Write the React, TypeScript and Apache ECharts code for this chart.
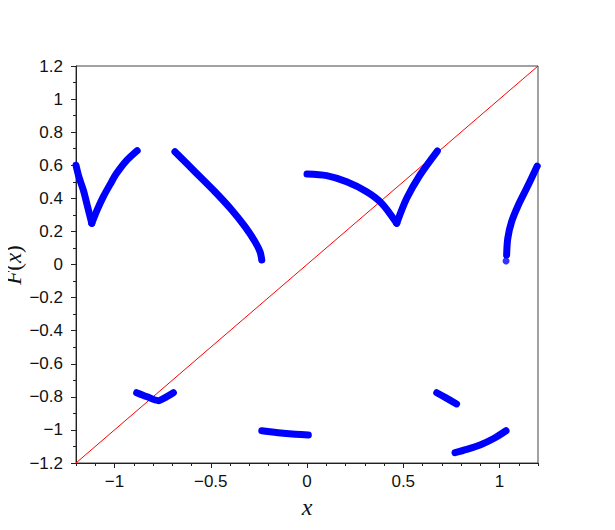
import React, { useEffect, useRef } from "react";
import * as echarts from "echarts";

// Branches of F(x) (split at cusps)
const branch1a: [number, number][] = [
  [-1.2, 0.6], [-1.185, 0.53], [-1.162, 0.45], [-1.14, 0.35], [-1.118, 0.249],
];
const branch1b: [number, number][] = [
  [-1.118, 0.249], [-1.09, 0.33], [-1.058, 0.41], [-1.02, 0.49], [-0.989, 0.551], [-0.94, 0.625], [-0.882, 0.688],
];
const branch2: [number, number][] = [
  [-0.686, 0.682], [-0.582, 0.561], [-0.478, 0.44], [-0.391, 0.33], [-0.322, 0.229],
  [-0.27, 0.138], [-0.244, 0.077], [-0.235, 0.027],
];
const branch3a: [number, number][] = [
  [0.0, 0.547], [0.102, 0.537], [0.206, 0.5], [0.31, 0.44], [0.388, 0.37], [0.466, 0.249],
];
const branch3b: [number, number][] = [
  [0.466, 0.249], [0.518, 0.4], [0.587, 0.541], [0.677, 0.686],
];
const branch4: [number, number][] = [
  [1.037, 0.057], [1.043, 0.158], [1.063, 0.259], [1.098, 0.36], [1.141, 0.461], [1.196, 0.595],
];
const branch5: [number, number][] = [
  [-0.885, -0.775], [-0.83, -0.8], [-0.772, -0.823], [-0.73, -0.8], [-0.694, -0.775],
];
const branch6: [number, number][] = [
  [-0.235, -1.005], [-0.18, -1.013], [-0.123, -1.02], [-0.06, -1.026], [0.007, -1.031],
];
const branch7: [number, number][] = [
  [0.674, -0.775], [0.72, -0.805], [0.777, -0.843],
];
const branch8: [number, number][] = [
  [0.769, -1.138], [0.83, -1.118], [0.899, -1.091], [0.97, -1.052], [1.034, -1.005],
];
const isolatedPoints: [number, number][] = [[1.034, 0.021]];
const diagonal: [number, number][] = [[-1.2, -1.2], [1.2, 1.2]];
const xMajorTicks = [-1, -0.5, 0, 0.5, 1];

const branches = [branch1a, branch1b, branch2, branch3a, branch3b, branch4, branch5, branch6, branch7, branch8];

const fmt = (v: number) => {
  const s = String(Math.round(v * 10) / 10);
  return s.replace("-", "\u2212");
};

export default function App() {
  const ref = useRef<HTMLDivElement>(null);
  useEffect(() => {
    if (!ref.current) return;
    const chart = echarts.init(ref.current, undefined, { renderer: "svg" });
    const axisColor = "#222";
    const labelFont = { fontFamily: "Liberation Sans", fontSize: 17, color: "#111" };
    const serif = "Liberation Serif";
    chart.setOption({
      animation: false,
      backgroundColor: "#fff",
      grid: {
        left: 76, right: 77, top: 66, bottom: 67,
        containLabel: false, outerBoundsMode: "none",
        show: true, borderColor: "#444", borderWidth: 1, backgroundColor: "transparent",
      },
      graphic: [
        {
          type: "text", x: 13, y: 265, rotation: Math.PI / 2,
          style: {
            text: "{i|F}{n|(}{i|x}{n|)}",
            align: "center", verticalAlign: "middle",
            rich: {
              i: { fontFamily: serif, fontStyle: "italic", fontSize: 23, fill: "#111" },
              n: { fontFamily: serif, fontSize: 23, fill: "#111" },
            },
          },
        },
      ],
      xAxis: [
        {
          type: "value", min: -1.2, max: 1.2, position: "bottom",
          axisLine: { show: true, onZero: false, lineStyle: { color: axisColor } },
          axisTick: { show: true, inside: false, length: 5, customValues: xMajorTicks, lineStyle: { color: axisColor } },
          splitLine: { show: false },
          axisLabel: { ...labelFont, margin: 10, customValues: xMajorTicks, formatter: (v: number) => fmt(v) },
          name: "x", nameLocation: "middle", nameGap: 19,
          nameTextStyle: { fontFamily: serif, fontStyle: "italic", fontSize: 24, color: "#111" },
        },
        {
          type: "value", min: -1.2, max: 1.2, interval: 0.1, position: "bottom",
          axisLine: { show: false, onZero: false },
          axisTick: { show: true, inside: false, length: 3, lineStyle: { color: axisColor } },
          splitLine: { show: false },
          axisLabel: { show: false },
        },
      ],
      yAxis: {
        type: "value", min: -1.2, max: 1.2, interval: 0.2,
        axisLine: { show: true, onZero: false, lineStyle: { color: axisColor } },
        axisTick: { show: true, inside: false, length: 5, lineStyle: { color: axisColor } },
        minorTick: { show: true, splitNumber: 2, length: 3, lineStyle: { color: axisColor } },
        splitLine: { show: false },
        axisLabel: { ...labelFont, margin: 13, formatter: (v: number) => fmt(v) },
      },
      series: [
        {
          type: "line", data: diagonal, showSymbol: false, silent: true,
          lineStyle: { color: "#ff0000", width: 1 }, z: 1,
        },
        ...branches.map((b) => ({
          type: "line", data: b, smooth: 0.3, showSymbol: false, silent: true,
          lineStyle: { color: "#0000ff", width: 7, cap: "round", join: "round" }, z: 2,
        })),
        {
          type: "scatter", data: isolatedPoints, symbolSize: 7, silent: true,
          itemStyle: { color: "#0000ff" }, z: 2,
        },
      ],
    });
    return () => chart.dispose();
  }, []);
  return <div ref={ref} style={{ width: 615, height: 530, margin: -8 }} />;
}
